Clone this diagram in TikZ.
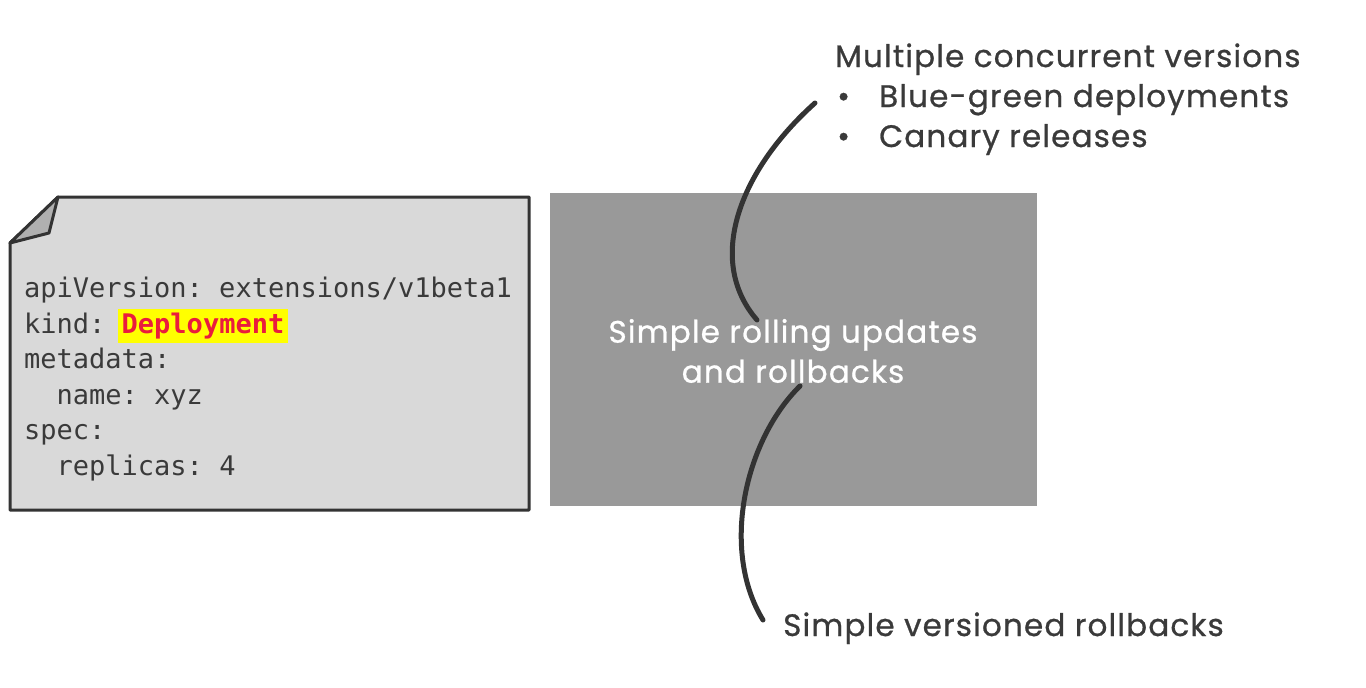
\documentclass[tikz,border=0pt]{standalone}
\usepackage{fontspec}
\setmainfont{Poppins}[LetterSpace=3.8, FakeBold=0.8]
\setmonofont{DejaVu Sans Mono}
\usetikzlibrary{calc}

\definecolor{ink}{HTML}{333333}
\definecolor{notegray}{HTML}{3A3A3A}
\definecolor{sheet}{HTML}{D9D9D9}
\definecolor{fold}{HTML}{B0B0B0}
\definecolor{panelgray}{HTML}{999999}
\definecolor{kindred}{HTML}{EA1B3D}
\definecolor{marker}{HTML}{FFFF00}

\tikzset{
	notetext/.style={text=notegray, font=\fontsize{31}{40}\selectfont, inner sep=0pt},
	codetext/.style={text=notegray, font=\fontsize{27}{35.5}\ttfamily\selectfont, align=left, inner sep=0pt},
	squiggle/.style={line width=5pt, color=ink, line cap=round},
}

\begin{document}
\begin{tikzpicture}[x=1pt, y=-1pt]
			%%%%% START %%%%%
			\useasboundingbox (0,0) rectangle (1366,688);
			
			% yaml sheet with folded corner
			\draw[fill=sheet, draw=ink, line width=3pt, line join=round] (58,197) -- (529,197) -- (529,510) -- (10,510) -- (10,243) -- cycle;
			\draw[fill=fold, draw=ink, line width=3pt, line join=round] (58,197) -- (49,233) -- (10,243) -- cycle;
			
			\node[codetext, anchor=north west] (yaml) at (24,277) {apiVersion: extensions/v1beta1\\
				kind: \kern-4pt{\fboxsep=4pt\colorbox{marker}{\textcolor{kindred}{\bfseries Deployment}}}\\
				metadata:\\
				~~name: xyz\\
				spec:\\
				~~replicas: 4};
			
			% grey panel
			\node[fill=panelgray, minimum width=487pt, minimum height=313pt, inner sep=0pt, anchor=north west] (panel) at (550,193) {};
			\node[notetext, text=white, align=center] (rolling) at (793,351) {Simple rolling updates\\and rollbacks};
			
			% labels
			\node[notetext, anchor=base west] (multi) at (835,67) {Multiple concurrent versions};
			\node[notetext, anchor=base west] (bluegreen) at (835,107) {\makebox[44pt][l]{\hspace{2pt}\textbullet}Blue-green deployments};
			\node[notetext, anchor=base west] (canary) at (835,147) {\makebox[44pt][l]{\hspace{2pt}\textbullet}Canary releases};
			\node[notetext, anchor=base west] (versioned) at (783,636) {Simple versioned rollbacks};
			
			% hand drawn links
			\coordinate (multi tip) at (815,103);
			\coordinate (rolling top) at (757,320);
			\coordinate (rolling bottom) at (800,386);
			\coordinate (versioned tip) at (763,620);
			\draw[squiggle] (multi tip) .. controls (740,170) and (705,260) .. (rolling top);
			\draw[squiggle] (rolling bottom) .. controls (745,440) and (720,550) .. (versioned tip);
			
			%%%%% END %%%%%
\end{tikzpicture}
\end{document}
